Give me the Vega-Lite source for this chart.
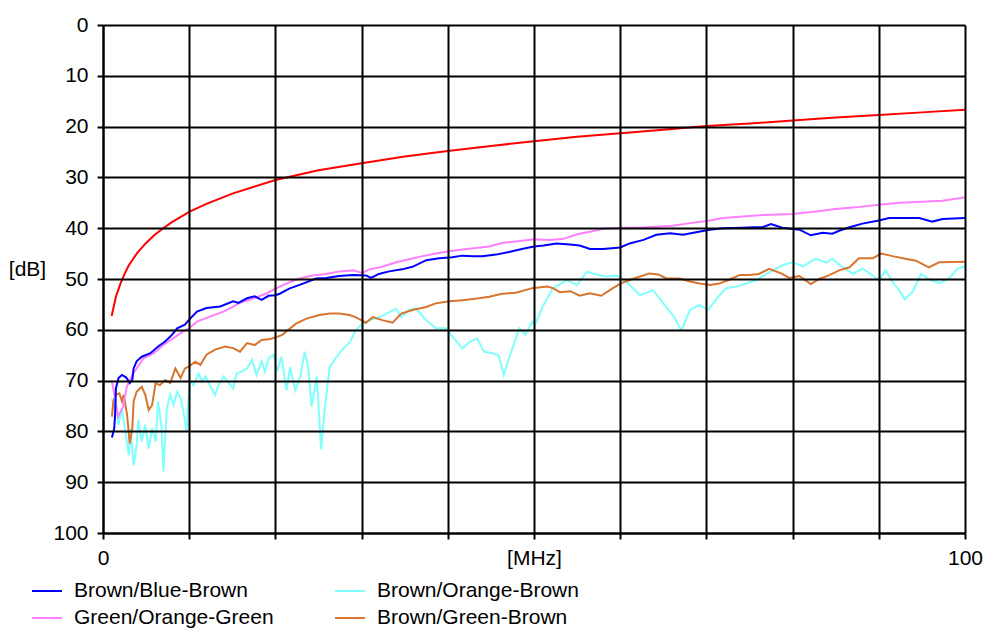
{
  "$schema": "https://vega.github.io/schema/vega-lite/v6.json",
  "width": 862,
  "height": 508,
  "autosize": "none",
  "padding": {"left": 103, "top": 25, "right": 33, "bottom": 103},
  "background": "white",
  "config": {
    "view": {"stroke": null},
    "font": "Liberation Sans",
    "line": {"strokeWidth": 2, "clip": true}
  },
  "encoding": {
    "x": {
      "field": "f", "type": "quantitative",
      "scale": {"domain": [0, 100], "nice": false},
      "axis": {
        "values": [0, 10, 20, 30, 40, 50, 60, 70, 80, 90, 100],
        "labelExpr": "datum.value == 50 ? '[MHz]' : (datum.value == 0 || datum.value == 100 ? datum.label : '')",
        "grid": true, "gridColor": "#000000", "gridWidth": 2, "gridOpacity": 1,
        "domainColor": "#000000", "domainWidth": 2,
        "tickColor": "#000000", "tickWidth": 2, "tickSize": 6,
        "labelFontSize": 21, "labelColor": "#000000", "labelPadding": 8,
        "labelFlush": false, "labelOverlap": false,
        "title": null, "zindex": 1
      }
    },
    "y": {
      "field": "a", "type": "quantitative",
      "scale": {"domain": [0, 100], "reverse": true, "nice": false},
      "axis": {
        "values": [0, 10, 20, 30, 40, 50, 60, 70, 80, 90, 100],
        "grid": true, "gridColor": "#000000", "gridWidth": 2, "gridOpacity": 1,
        "domainColor": "#000000", "domainWidth": 2,
        "tickColor": "#000000", "tickWidth": 2, "tickSize": 6,
        "labelFontSize": 21, "labelColor": "#000000", "labelPadding": 9,
        "labelFlush": false, "labelOverlap": false,
        "title": "[dB]", "titleAngle": 0, "titleX": -76, "titleY": 244,
        "titleAlign": "center", "titleBaseline": "middle",
        "titleFontSize": 21, "titleFontWeight": "normal", "titleColor": "#000000",
        "zindex": 1
      }
    }
  },
  "layer": [
    {
      "mark": {"type": "line"},
      "encoding": {
        "color": {
          "datum": "Brown/Orange-Brown",
          "scale": {
            "domain": ["Brown/Blue-Brown", "Green/Orange-Green", "Brown/Orange-Brown", "Brown/Green-Brown", "Limit"],
            "range": ["#0000ff", "#ff80ff", "#80ffff", "#d8742e", "#ff0000"]
          },
          "legend": {
            "orient": "none", "legendX": -72, "legendY": 550,
            "columns": 2, "direction": "vertical",
            "values": ["Brown/Blue-Brown", "Green/Orange-Green", "Brown/Orange-Brown", "Brown/Green-Brown"],
            "symbolType": "stroke", "symbolSize": 900, "symbolStrokeWidth": 2,
            "labelFontSize": 21, "labelColor": "#000000", "labelOffset": 11, "labelLimit": 0,
            "columnPadding": 57, "rowPadding": 1, "title": null
          }
        }
      },
      "data": {"values": [
        {"f":1.04,"a":73.5},{"f":1.3,"a":75.5},{"f":1.5,"a":74.1},{"f":1.8,"a":78.7},{"f":2.2,"a":75.5},{"f":2.6,"a":80.1},{"f":3.0,"a":84.7},{"f":3.2,"a":79.4},{"f":3.55,"a":86.7},{"f":3.9,"a":82.7},{"f":4.1,"a":77.7},{"f":4.5,"a":82},{"f":4.9,"a":78.7},{"f":5.3,"a":83.4},{"f":5.7,"a":79.4},{"f":6.1,"a":82},{"f":6.4,"a":74.1},{"f":6.8,"a":79.4},{"f":7.0,"a":87.9},{"f":7.4,"a":75.5},{"f":7.8,"a":72.8},{"f":8.2,"a":74.8},{"f":8.6,"a":72.2},{"f":9.0,"a":73.5},{"f":9.3,"a":75.8},{"f":9.7,"a":80.1},{"f":9.9,"a":74.1},{"f":10.1,"a":69.9},{"f":10.5,"a":70.9},{"f":11.1,"a":68.6},{"f":11.5,"a":70.2},{"f":11.9,"a":69.2},{"f":12.4,"a":70.9},{"f":13,"a":72.8},{"f":13.4,"a":70.9},{"f":14,"a":69.2},{"f":14.6,"a":70.5},{"f":15.1,"a":71.5},{"f":15.5,"a":68.6},{"f":16.1,"a":68.2},{"f":16.7,"a":67.6},{"f":17.3,"a":65.9},{"f":17.8,"a":68.9},{"f":18.4,"a":66.2},{"f":18.8,"a":68.2},{"f":19.2,"a":65.6},{"f":19.8,"a":64.9},{"f":20.2,"a":68.2},{"f":20.7,"a":65.3},{"f":21.3,"a":71.9},{"f":21.7,"a":67.3},{"f":22.3,"a":71.9},{"f":22.9,"a":69.2},{"f":23.4,"a":64.3},{"f":23.8,"a":67.3},{"f":24.2,"a":75.1},{"f":24.8,"a":69.2},{"f":25.3,"a":83.5},{"f":25.75,"a":75.1},{"f":26.3,"a":67.3},{"f":27.1,"a":65.3},{"f":27.9,"a":63.6},{"f":28.7,"a":62.3},{"f":29.3,"a":60.1},{"f":29.9,"a":59.1},{"f":30.9,"a":58.1},{"f":31.7,"a":57.8},{"f":32.6,"a":57.1},{"f":34,"a":55.8},{"f":34.6,"a":57.5},{"f":35.5,"a":56.1},{"f":36.3,"a":55.8},{"f":37.5,"a":58.1},{"f":38.6,"a":59.7},{"f":39.8,"a":59.7},{"f":40.7,"a":61.7},{"f":41.7,"a":63.7},{"f":42.5,"a":62.4},{"f":43.4,"a":61.7},{"f":44.2,"a":64.3},{"f":45.2,"a":64.6},{"f":45.9,"a":65},{"f":46.5,"a":68.9},{"f":47.1,"a":65.6},{"f":48.3,"a":59.7},{"f":49,"a":61},{"f":49.8,"a":58.4},{"f":50.1,"a":59.1},{"f":51.1,"a":55.1},{"f":52.2,"a":51.8},{"f":53.8,"a":50.2},{"f":55,"a":51.2},{"f":56.1,"a":48.6},{"f":57.3,"a":49.1},{"f":58.4,"a":49.5},{"f":59.6,"a":49.3},{"f":60.7,"a":50.5},{"f":62.3,"a":53.2},{"f":63.8,"a":52.2},{"f":65,"a":54.8},{"f":66.1,"a":57.1},{"f":67.1,"a":60.1},{"f":68.1,"a":56.1},{"f":69.2,"a":55.1},{"f":70.2,"a":56.1},{"f":71.2,"a":53.8},{"f":72.3,"a":51.8},{"f":73.5,"a":51.5},{"f":74.6,"a":50.9},{"f":75.8,"a":50.2},{"f":76.6,"a":49.4},{"f":77.3,"a":48.7},{"f":78.8,"a":47.3},{"f":80,"a":46.7},{"f":81.2,"a":47.5},{"f":82.7,"a":46},{"f":83.9,"a":46.8},{"f":84.6,"a":46},{"f":85.8,"a":47.7},{"f":87,"a":49},{"f":88.1,"a":47.9},{"f":89.3,"a":49.3},{"f":90,"a":50.3},{"f":90.8,"a":48.3},{"f":91.6,"a":50.6},{"f":92.4,"a":52.3},{"f":93,"a":54},{"f":93.9,"a":52.6},{"f":94.9,"a":49},{"f":95.8,"a":50},{"f":97,"a":50.8},{"f":98.1,"a":50},{"f":99.1,"a":48},{"f":100,"a":47.5}
      ]}
    },
    {
      "mark": {"type": "line"},
      "encoding": {"color": {"datum": "Brown/Green-Brown"}},
      "data": {"values": [
        {"f":1.04,"a":77.1},{"f":1.2,"a":74.1},{"f":1.5,"a":72.8},{"f":1.9,"a":72.5},{"f":2.2,"a":74.1},{"f":2.4,"a":72.8},{"f":2.8,"a":76.8},{"f":3.1,"a":82.4},{"f":3.4,"a":79.4},{"f":3.55,"a":74.1},{"f":3.9,"a":72.2},{"f":4.5,"a":71.2},{"f":4.9,"a":72.8},{"f":5.3,"a":75.8},{"f":5.7,"a":74.8},{"f":6.1,"a":70.5},{"f":6.6,"a":70.9},{"f":7.2,"a":69.9},{"f":7.8,"a":70.5},{"f":8.4,"a":67.6},{"f":9.0,"a":69.5},{"f":9.5,"a":67.6},{"f":10,"a":67.2},{"f":10.7,"a":66.3},{"f":11.3,"a":66.9},{"f":12,"a":64.9},{"f":13,"a":63.9},{"f":14.2,"a":63.3},{"f":15.1,"a":63.6},{"f":15.9,"a":64.3},{"f":16.7,"a":62.6},{"f":17.6,"a":63},{"f":18.4,"a":62},{"f":19.4,"a":61.8},{"f":20.2,"a":61.4},{"f":20.8,"a":61},{"f":21.5,"a":60},{"f":22.4,"a":58.8},{"f":23.6,"a":57.8},{"f":25.1,"a":57.1},{"f":26.3,"a":56.8},{"f":27.4,"a":56.8},{"f":28.6,"a":57.1},{"f":29.3,"a":57.5},{"f":30.5,"a":58.6},{"f":31.3,"a":57.5},{"f":32.4,"a":58.1},{"f":33.6,"a":58.6},{"f":34.6,"a":56.8},{"f":35.9,"a":56.1},{"f":37.5,"a":55.5},{"f":38.6,"a":54.8},{"f":40.2,"a":54.4},{"f":41.7,"a":54.2},{"f":43.2,"a":53.9},{"f":44.8,"a":53.5},{"f":46.3,"a":52.9},{"f":47.9,"a":52.7},{"f":49.8,"a":51.8},{"f":51.5,"a":51.5},{"f":52.2,"a":51.8},{"f":53,"a":52.6},{"f":54.2,"a":52.4},{"f":55.3,"a":53.3},{"f":56.5,"a":52.8},{"f":57.8,"a":53.3},{"f":58.8,"a":52.2},{"f":60,"a":50.9},{"f":61.1,"a":50.2},{"f":62.3,"a":49.5},{"f":63.4,"a":48.9},{"f":64.4,"a":49.1},{"f":65.4,"a":49.9},{"f":66.9,"a":49.9},{"f":68.1,"a":50.5},{"f":69.2,"a":50.9},{"f":70.4,"a":51.2},{"f":71.5,"a":50.9},{"f":72.7,"a":50.1},{"f":73.9,"a":49.2},{"f":75,"a":49.2},{"f":76.1,"a":49},{"f":77.3,"a":48},{"f":78.8,"a":49},{"f":79.6,"a":49.8},{"f":80.8,"a":49.4},{"f":82.1,"a":51},{"f":83.1,"a":50},{"f":84.2,"a":49.3},{"f":85.4,"a":48.3},{"f":86.6,"a":47.7},{"f":87.7,"a":45.9},{"f":89.3,"a":45.9},{"f":90.3,"a":45},{"f":91.6,"a":45.5},{"f":93.1,"a":46},{"f":94.3,"a":46.4},{"f":95.8,"a":47.7},{"f":97,"a":46.7},{"f":100,"a":46.6}
      ]}
    },
    {
      "mark": {"type": "line"},
      "encoding": {"color": {"datum": "Green/Orange-Green"}},
      "data": {"values": [
        {"f":1.0,"a":69.9},{"f":1.3,"a":72.5},{"f":1.75,"a":77.1},{"f":2.35,"a":75.1},{"f":2.75,"a":71.2},{"f":3.5,"a":68.6},{"f":4.3,"a":66.6},{"f":4.7,"a":65.6},{"f":5.9,"a":64.6},{"f":7.0,"a":63},{"f":8.2,"a":61.6},{"f":9.3,"a":60.3},{"f":10,"a":59.7},{"f":10.9,"a":58.4},{"f":12.4,"a":57.4},{"f":14,"a":56.4},{"f":15.9,"a":54.7},{"f":17.5,"a":53.8},{"f":19,"a":52.8},{"f":20.5,"a":51.5},{"f":21.7,"a":50.6},{"f":22.8,"a":49.9},{"f":24.3,"a":49.3},{"f":25.9,"a":49},{"f":27.4,"a":48.5},{"f":29,"a":48.3},{"f":30.1,"a":48.8},{"f":30.9,"a":48.1},{"f":32.4,"a":47.6},{"f":34,"a":46.7},{"f":35.5,"a":46.1},{"f":37.1,"a":45.5},{"f":38.6,"a":45},{"f":40,"a":44.6},{"f":41.7,"a":44.2},{"f":43.2,"a":43.9},{"f":44.8,"a":43.6},{"f":46.3,"a":42.9},{"f":47.9,"a":42.6},{"f":50,"a":42.2},{"f":51.9,"a":42.3},{"f":53.4,"a":42.1},{"f":55,"a":41.2},{"f":56.5,"a":40.7},{"f":58,"a":40.1},{"f":60,"a":39.9},{"f":61.9,"a":39.9},{"f":64.2,"a":39.7},{"f":66.1,"a":39.5},{"f":68.1,"a":39},{"f":70.1,"a":38.6},{"f":71.9,"a":38},{"f":74.2,"a":37.7},{"f":76.6,"a":37.4},{"f":80,"a":37.2},{"f":82.7,"a":36.7},{"f":85,"a":36.2},{"f":87.3,"a":35.9},{"f":90,"a":35.4},{"f":92.4,"a":35},{"f":95.1,"a":34.8},{"f":97.4,"a":34.6},{"f":100,"a":33.9}
      ]}
    },
    {
      "mark": {"type": "line"},
      "encoding": {"color": {"datum": "Brown/Blue-Brown"}},
      "data": {"values": [
        {"f":1.04,"a":81.2},{"f":1.3,"a":79.4},{"f":1.4,"a":76.8},{"f":1.5,"a":71.5},{"f":1.8,"a":69.5},{"f":2.2,"a":68.9},{"f":2.7,"a":69.4},{"f":3.1,"a":70.5},{"f":3.4,"a":69.9},{"f":3.55,"a":67.6},{"f":3.9,"a":66.2},{"f":4.5,"a":65.3},{"f":5.5,"a":64.6},{"f":6.4,"a":63.3},{"f":7.2,"a":62.3},{"f":8.0,"a":61},{"f":8.6,"a":59.7},{"f":9.5,"a":59},{"f":10,"a":58},{"f":10.9,"a":56.4},{"f":12,"a":55.7},{"f":13.6,"a":55.4},{"f":15.1,"a":54.4},{"f":15.7,"a":54.7},{"f":16.7,"a":53.8},{"f":17.6,"a":53.4},{"f":18.4,"a":54.1},{"f":19.2,"a":53.3},{"f":20,"a":53.2},{"f":20.5,"a":52.9},{"f":21.6,"a":51.9},{"f":23.2,"a":50.9},{"f":24.7,"a":49.9},{"f":25.9,"a":49.8},{"f":27.4,"a":49.4},{"f":29,"a":49.2},{"f":30.5,"a":49.3},{"f":31.1,"a":49.8},{"f":32,"a":49},{"f":33.2,"a":48.5},{"f":34.7,"a":48.1},{"f":35.9,"a":47.6},{"f":37.5,"a":46.3},{"f":39,"a":45.9},{"f":40.5,"a":45.7},{"f":41.7,"a":45.4},{"f":42.9,"a":45.5},{"f":44,"a":45.5},{"f":45.6,"a":45.2},{"f":47.1,"a":44.7},{"f":48.6,"a":44.1},{"f":50,"a":43.6},{"f":51.1,"a":43.4},{"f":52.6,"a":43},{"f":54.2,"a":43.2},{"f":55.3,"a":43.4},{"f":56.5,"a":44.1},{"f":58,"a":44.1},{"f":60,"a":43.8},{"f":61.1,"a":43},{"f":62.7,"a":42.3},{"f":64.2,"a":41.3},{"f":65.8,"a":41},{"f":67.3,"a":41.3},{"f":68.8,"a":40.8},{"f":70.4,"a":40.3},{"f":71.9,"a":40},{"f":74.2,"a":39.9},{"f":75.5,"a":39.8},{"f":76.5,"a":39.8},{"f":77.5,"a":39.2},{"f":78.8,"a":39.9},{"f":80.8,"a":40.3},{"f":82.1,"a":41.4},{"f":83.5,"a":40.9},{"f":84.6,"a":41.1},{"f":85.4,"a":40.5},{"f":86.6,"a":39.8},{"f":88.1,"a":39.1},{"f":90,"a":38.5},{"f":91.2,"a":38},{"f":94.7,"a":38},{"f":96.2,"a":38.7},{"f":97.4,"a":38.2},{"f":100,"a":38}
      ]}
    },
    {
      "mark": {"type": "line"},
      "encoding": {"color": {"datum": "Limit"}},
      "data": {"values": [
        {"f":1,"a":57.3},{"f":1.5,"a":53.5},{"f":2,"a":51},{"f":2.5,"a":49},{"f":3,"a":47.3},{"f":4,"a":44.8},{"f":5,"a":42.9},{"f":6,"a":41.3},{"f":7,"a":40},{"f":8,"a":38.8},{"f":10,"a":36.8},{"f":12,"a":35.2},{"f":15,"a":33.2},{"f":20,"a":30.5},{"f":25,"a":28.6},{"f":30,"a":27.2},{"f":35,"a":25.9},{"f":40,"a":24.8},{"f":45,"a":23.8},{"f":50,"a":22.9},{"f":55,"a":22},{"f":60,"a":21.3},{"f":65,"a":20.6},{"f":70,"a":19.9},{"f":75,"a":19.4},{"f":80,"a":18.8},{"f":85,"a":18.2},{"f":90,"a":17.7},{"f":95,"a":17.2},{"f":100,"a":16.7}
      ]}
    }
  ]
}
